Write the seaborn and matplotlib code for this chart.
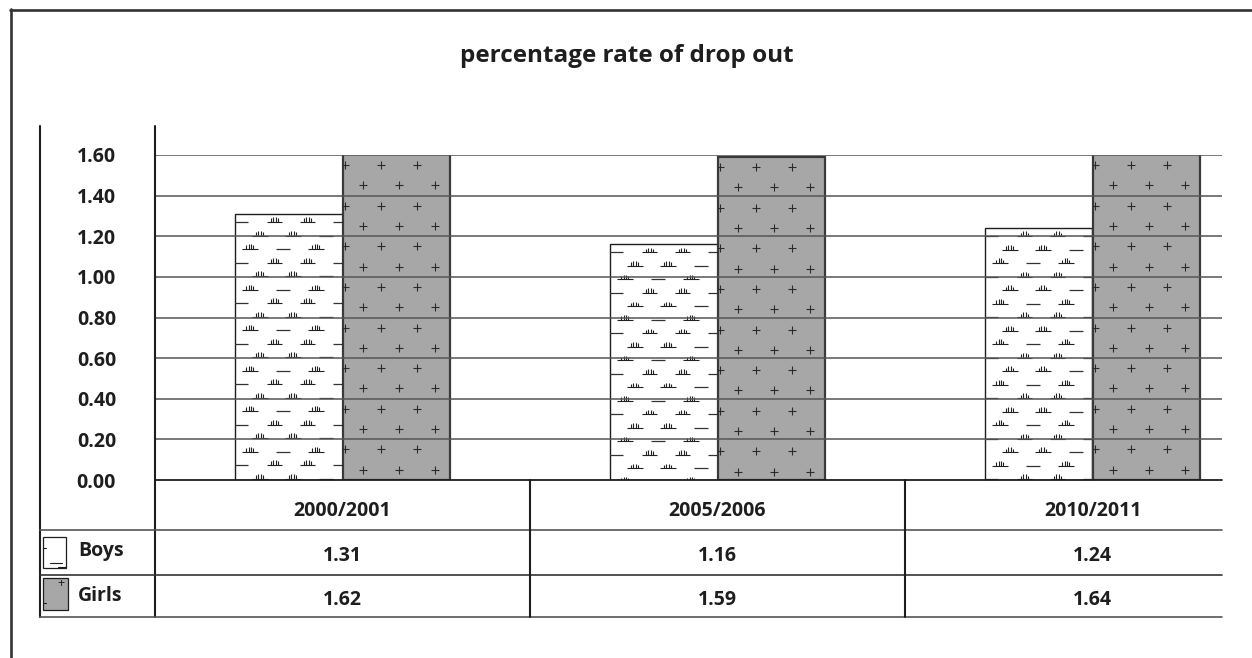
import numpy as np
import pandas as pd
import matplotlib
matplotlib.use("Agg")
import matplotlib.pyplot as plt
import seaborn as sns
from matplotlib.lines import Line2D
from matplotlib.patches import Rectangle
from matplotlib.path import Path
from matplotlib import transforms

# ---- data ----
periods = ["2000/2001", "2005/2006", "2010/2011"]
boys = [1.31, 1.16, 1.24]
girls = [1.62, 1.59, 1.64]
series_names = ["Boys", "Girls"]
y_ticks = [0.0, 0.2, 0.4, 0.6, 0.8, 1.0, 1.2, 1.4, 1.6]
title = "percentage rate of drop out"

df = pd.DataFrame({
    "period": periods * 2,
    "rate": boys + girls,
    "sex": ["Boys"] * len(periods) + ["Girls"] * len(periods),
})

sns.set_style("white")
plt.rcParams["font.family"] = ["Open Sans", "DejaVu Sans"]
plt.rcParams["font.weight"] = "bold"

W, H = 1252, 658
fig = plt.figure(figsize=(W / 100, H / 100), dpi=100)


def fx(x):
    return x / W


def fy(y):
    return 1 - y / H


INK = "#1e1e1e"
GRID = "#555555"
GREY = "#a7a7a7"
FS = 14

# plot region (pixels)
left, right, top, bottom = 155, 1222, 155, 480
col_w = 375.0
ax = fig.add_axes([fx(left), fy(bottom), (right - left) / W, (bottom - top) / H])

sns.barplot(data=df, x="period", y="rate", hue="sex", order=periods,
            hue_order=series_names, palette={"Boys": "white", "Girls": GREY},
            width=0.574, dodge=True, legend=False, ax=ax,
            edgecolor=INK, linewidth=1.0, saturation=1, errorbar=None, zorder=2)

ax.set_xlim(-0.5, -0.5 + (right - left) / col_w)
ax.set_ylim(0, 1.6)
ax.set_yticks(y_ticks)
ax.set_yticklabels([f"{v:.2f}" for v in y_ticks], fontsize=FS, fontweight="bold",
                   color=INK)
ax.tick_params(axis="y", length=0, pad=28)
ax.set_xticks([])
ax.set_xlabel("")
ax.set_ylabel("")
for s in ax.spines.values():
    s.set_visible(False)
ax.grid(False)
for v in y_ticks[1:]:
    ax.axhline(v, color=GRID, lw=1.1, zorder=4)

# textures inside bars
tuft_verts = [(-1.0, 0.0), (1.0, 0.0),
              (-0.45, 0.0), (-0.45, 0.45),
              (-0.15, 0.0), (-0.15, 0.6),
              (0.15, 0.0), (0.15, 0.6),
              (0.45, 0.0), (0.45, 0.45)]
tuft_codes = [Path.MOVETO, Path.LINETO] * 5
tuft = Path(tuft_verts, tuft_codes)

px_x = col_w  # pixels per x data unit
px_y = (bottom - top) / 1.6  # pixels per y data unit

bars = list(ax.patches)
for patch in bars:
    x0 = patch.get_x()
    w = patch.get_width()
    h = min(patch.get_height(), 1.6)
    is_girl = patch.get_facecolor()[0] < 0.9
    if is_girl:
        patch.set_edgecolor("#3a3a3a")
        patch.set_linewidth(1.6)
        dx, dy = 36 / px_x, 20.3 / px_y
        xs, ys = [], []
        nrows = int(h / dy) + 1
        for i in range(nrows):
            yv = h - (i + 0.5) * dy
            off = 0.08 if i % 2 == 0 else 0.58
            for j in range(4):
                xv = x0 + (j + off) * dx
                if x0 < xv < x0 + w:
                    xs.append(xv)
                    ys.append(yv)
        sc = ax.scatter(xs, ys, marker="+", s=38, c="#2a2a2a", linewidths=0.8,
                        zorder=3)
        sc.set_clip_path(patch)
    else:
        dx, dy = 33 / px_x, 13.5 / px_y
        tx, ty, lx, ly = [], [], [], []
        nrows = int(h / dy) + 1
        for i in range(nrows):
            yv = h - (i + 0.6) * dy
            off = [0.2, 0.75, 0.45][i % 3]
            for j in range(4):
                xv = x0 + (j + off) * dx
                if not (x0 < xv < x0 + w):
                    continue
                if (i + j) % 3 == 0:
                    lx.append(xv)
                    ly.append(yv)
                else:
                    tx.append(xv)
                    ty.append(yv)
        s1 = ax.scatter(tx, ty, marker=tuft, s=130, facecolors="none",
                        edgecolors="#222222", linewidths=0.8, zorder=3)
        s2 = ax.scatter(lx, ly, marker="_", s=90, c="#333333", linewidths=0.9,
                        zorder=3)
        s1.set_clip_path(patch)
        s2.set_clip_path(patch)

# title
fig.text(fx(627), fy(56), title, ha="center", va="center", fontsize=17.5,
         fontweight="bold", color=INK)


def hline(y, x0, x1, lw=1.2, color=INK):
    fig.add_artist(Line2D([fx(x0), fx(x1)], [fy(y), fy(y)],
                          transform=fig.transFigure, color=color, lw=lw))


def vline(x, y0, y1, lw=1.2, color=INK):
    fig.add_artist(Line2D([fx(x), fx(x)], [fy(y0), fy(y1)],
                          transform=fig.transFigure, color=color, lw=lw))


# outer frame
hline(9.5, 10, W, lw=1.9, color="#333333")
vline(10.5, 9, H, lw=1.9, color="#333333")

# axis and data-table grid
vline(40, 126, 617, lw=1.5)
vline(155, 126, 617, lw=1.5)
hline(480, 155, right, lw=1.3)
hline(530, 40, right, lw=1.2, color="#555555")
hline(575, 40, right, lw=1.2, color="#333333")
hline(617, 40, right, lw=1.2, color="#555555")
for k in range(1, len(periods)):
    vline(left + k * col_w, 480, 617, lw=1.5)

# data-table text
bt = transforms.blended_transform_factory(ax.transData, fig.transFigure)
for i, p in enumerate(periods):
    ax.text(i, fy(511), p, transform=bt, ha="center", va="center", fontsize=FS,
            fontweight="bold", color=INK, clip_on=False)
    ax.text(i, fy(556), f"{boys[i]:.2f}", transform=bt, ha="center", va="center",
            fontsize=FS, fontweight="bold", color=INK, clip_on=False)
    ax.text(i, fy(600), f"{girls[i]:.2f}", transform=bt, ha="center", va="center",
            fontsize=FS, fontweight="bold", color=INK, clip_on=False)

# legend keys in the table's first column
fig.text(fx(78), fy(551), series_names[0], ha="left", va="center", fontsize=FS,
         fontweight="bold", color=INK)
fig.text(fx(78), fy(596), series_names[1], ha="left", va="center", fontsize=FS,
         fontweight="bold", color=INK)
fig.add_artist(Rectangle((fx(43), fy(568)), 23 / W, 31 / H, transform=fig.transFigure,
                         facecolor="white", edgecolor=INK, lw=0.9))
hline(563, 50, 62, lw=0.8)
hline(567, 58, 66, lw=0.8)
hline(548, 43, 46, lw=0.8)
fig.add_artist(Rectangle((fx(43), fy(610)), 25 / W, 32 / H, transform=fig.transFigure,
                         facecolor=GREY, edgecolor=INK, lw=0.9))
fig.text(fx(61), fy(584), "+", ha="center", va="center", fontsize=9,
         fontweight="normal", color=INK)
hline(603, 43, 46, lw=0.8)

fig.savefig("out.png", dpi=100, facecolor="white")
